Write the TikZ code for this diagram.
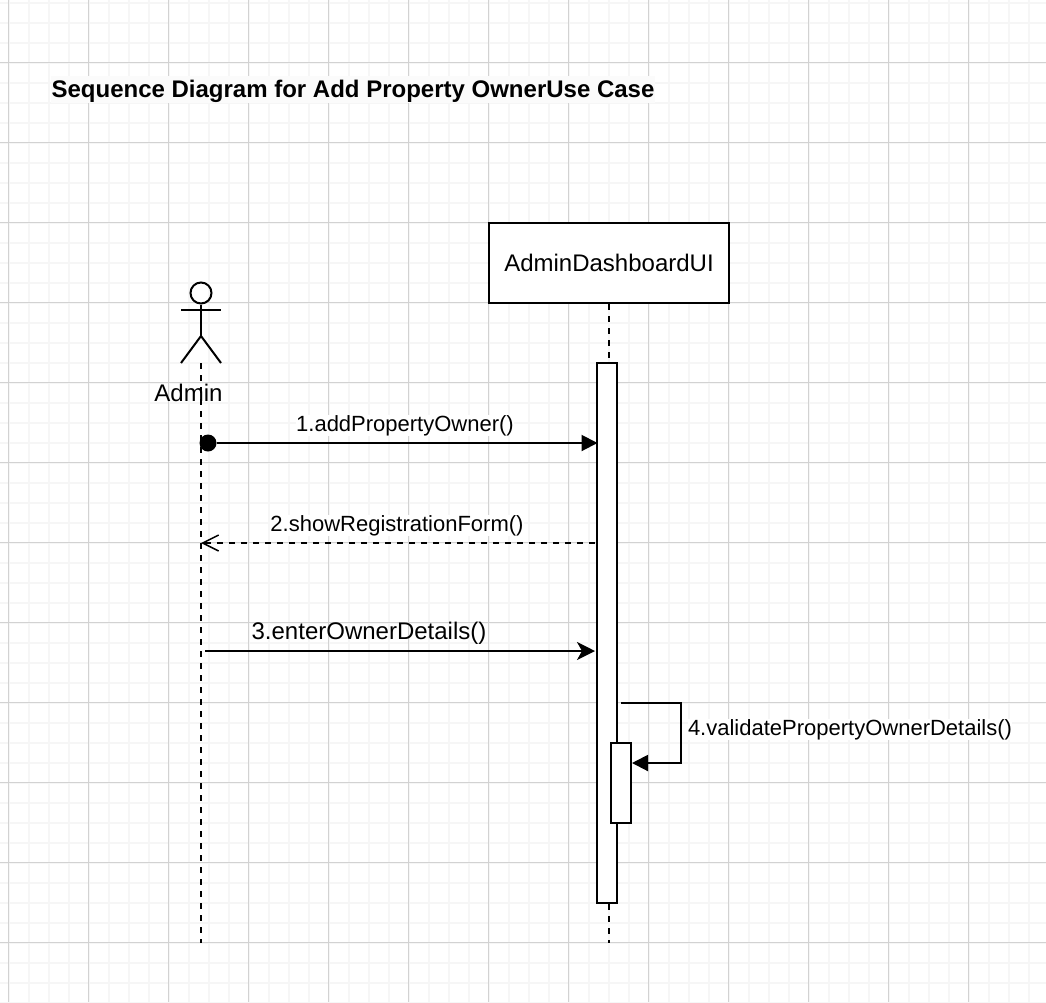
\documentclass[tikz,border=0pt]{standalone}
\usepackage{fontspec}
\setmainfont{Liberation Sans}
\usetikzlibrary{arrows.meta}
\definecolor{gridminor}{HTML}{F6F6F6}
\definecolor{gridmajor}{HTML}{D2D2D2}
\definecolor{titlebg}{HTML}{FBFBFB}
\tikzset{
  line/.style={line width=2pt},
  lifeline/.style={line, dash pattern=on 6pt off 6pt},
  bar/.style={draw, line, fill=white, minimum width=20pt, inner sep=0pt},
  msg/.style={font=\fontsize{22}{26}\selectfont, inner sep=0pt},
  solidtip/.style={-{Triangle[length=16pt,width=16pt]}},
  opentip/.style={-{Straight Barb[length=16pt,width=16pt,line width=1.5pt]}}
}
\begin{document}
\begin{tikzpicture}[x=1pt,y=-1pt]
  \useasboundingbox (0,0) rectangle (1046,1002);
  \fill[white] (0,0) rectangle (1046,1002);
  % grid
  \foreach \i in {0,...,52}
    \draw[gridminor, line width=2pt] (8.5+20*\i,0) -- (8.5+20*\i,1002);
  \foreach \i in {0,...,50}
    \draw[gridminor, line width=2pt] (0,2.5+20*\i) -- (1046,2.5+20*\i);
  \foreach \i in {0,...,13}
    \draw[gridmajor, line width=1pt] (8.5+80*\i,0) -- (8.5+80*\i,1002);
  \foreach \i in {0,...,12}
    \draw[gridmajor, line width=1pt] (0,62.5+80*\i) -- (1046,62.5+80*\i);
  % title
  \node[fill=titlebg, inner sep=0pt, minimum width=604pt, text height=21.5pt, text depth=5.5pt, font=\bfseries\fontsize{24}{28}\selectfont] (title) at (353,89.5) {Sequence Diagram for Add Property OwnerUse Case};
  % lifelines
  \coordinate (adminTop) at (201,363);
  \coordinate (adminEnd) at (201,943);
  \coordinate (uiEnd) at (609,943);
  \node[draw, line, fill=white, minimum width=240pt, minimum height=80pt, inner sep=0pt, font=\fontsize{24}{28}\selectfont] (ui) at (609,263) {AdminDashboardUI};
  \draw[lifeline] (adminTop) -- (adminEnd);
  \draw[lifeline] (ui) -- (uiEnd);
  % admin actor
  \node[draw, line, circle, minimum size=21pt, inner sep=0pt] (head) at (201,293) {};
  \coordinate (hip) at (201,336);
  \coordinate (armL) at (181,309.5);
  \coordinate (armR) at (221,309.5);
  \coordinate (legL) at (181,363);
  \coordinate (legR) at (221,363);
  \draw[line] (head) -- (hip);
  \draw[line] (armL) -- (armR);
  \draw[line] (legL) -- (hip) -- (legR);
  \node[font=\fontsize{24}{28}\selectfont, inner sep=0pt] (admin) at (188.5,393) {Admin};
  % activation bars
  \node[bar, minimum height=540pt] (uiBar) at (607,633) {};
  \node[bar, minimum height=80pt] (selfBar) at (621,783) {};
  % messages
  \node[circle, fill=black, minimum size=17pt, inner sep=0pt] (start) at (208,443) {};
  \coordinate (m1) at (597.5,443);
  \draw[line, solidtip] (start) -- (m1);
  \node[msg, fill=white] (lab1) at (405,425.5) {1.addPropertyOwner()};
  \coordinate (m2a) at (595,543);
  \coordinate (m2b) at (201,543);
  \draw[line, opentip, dash pattern=on 6pt off 6pt] (m2a) -- (m2b);
  \node[msg, fill=white] (lab2) at (397,525.5) {2.showRegistrationForm()};
  \coordinate (m3a) at (205,651);
  \coordinate (m3b) at (595,651);
  \draw[line, -{Stealth[length=18pt,width=18pt,inset=5pt]}] (m3a) -- (m3b);
  \node[msg, font=\fontsize{24}{28}\selectfont] (lab3) at (369,633.5) {3.enterOwnerDetails()};
  \coordinate (m4a) at (621,703);
  \coordinate (m4b) at (681,703);
  \coordinate (m4c) at (681,763);
  \coordinate (m4d) at (632,763);
  \draw[line, solidtip] (m4a) -- (m4b) -- (m4c) -- (m4d);
  \node[msg, fill=white] (lab4) at (850,729.5) {4.validatePropertyOwnerDetails()};
\end{tikzpicture}
\end{document}
